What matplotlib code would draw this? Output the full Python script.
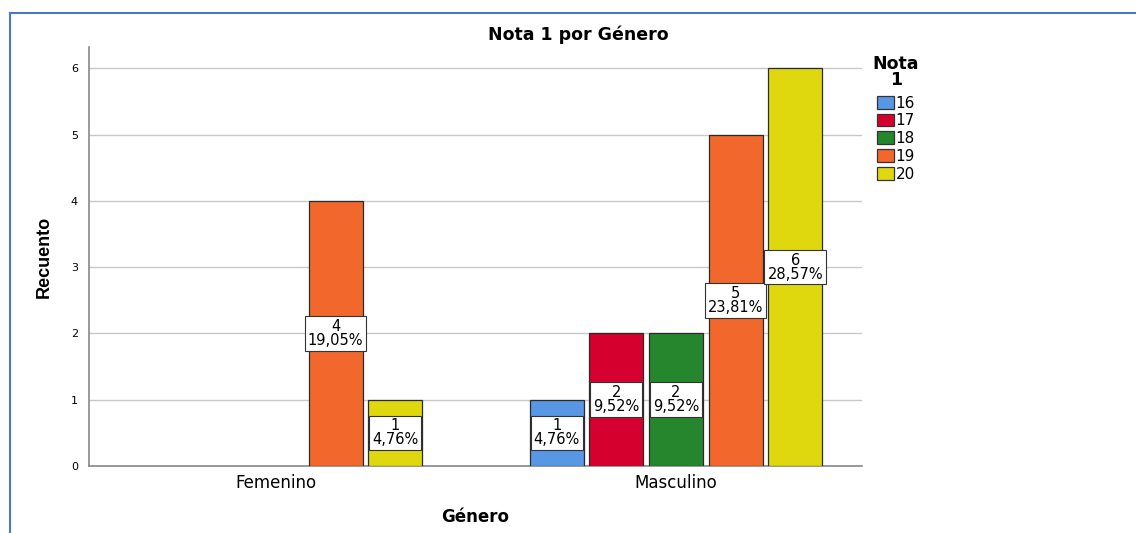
import matplotlib
matplotlib.use("Agg")
import matplotlib.pyplot as plt
from matplotlib.lines import Line2D
from matplotlib.patches import Patch
import numpy as np

plt.rcParams['font.family'] = ['Liberation Sans', 'DejaVu Sans']

generos = ["Femenino", "Masculino"]
notas = ["16", "17", "18", "19", "20"]
counts = {
    "16": [0, 1],
    "17": [0, 2],
    "18": [0, 2],
    "19": [4, 5],
    "20": [1, 6],
}
colors = ["#5797E3", "#D6002E", "#25862E", "#F2682C", "#E0D80F"]
total = 21

fig = plt.figure(figsize=(11.36, 5.33), dpi=100)
W, H = 1136, 533
ax = fig.add_axes([89 / W, 1 - 466 / H, (862 - 89) / W, (466 - 47) / H])

step = 0.149
width = 0.135
x = np.arange(len(generos))
for i, n in enumerate(notas):
    vals = counts[n]
    for j, v in enumerate(vals):
        if v <= 0:
            continue
        xp = x[j] + (i - 2) * step
        ax.bar(xp, v, width=width, color=colors[i], edgecolor="#2a2a2a", linewidth=0.9, zorder=3)
        pct = v / total * 100
        lbl = f"{v}\n{pct:.2f}%".replace(".", ",")
        ax.text(xp, v / 2, lbl, ha="center", va="center", fontsize=10.5, linespacing=0.9,
                family="DejaVu Sans", zorder=5,
                bbox=dict(boxstyle="square,pad=0.2", facecolor="white", edgecolor="#333333", linewidth=0.8))

ax.set_xlim(-0.4675, 1.465)
ax.set_ylim(0, 6.32)
ax.set_yticks(range(0, 7))
ax.set_yticklabels([str(v) for v in range(0, 7)], fontsize=8, family="DejaVu Sans")
ax.set_xticks(x)
ax.set_xticklabels(generos, fontsize=12, family="DejaVu Sans")
ax.tick_params(axis="y", length=0, pad=8)
ax.tick_params(axis="x", length=0, pad=6)
ax.grid(axis="y", color="#c8c8c8", linewidth=1, zorder=0)
for s in ["top", "right"]:
    ax.spines[s].set_visible(False)
for s in ["left", "bottom"]:
    ax.spines[s].set_color("#888888")
    ax.spines[s].set_linewidth(1.2)

ax.set_ylabel("Recuento", fontsize=13, fontweight="bold")
ax.yaxis.set_label_coords((53 - 89) / (862 - 89), 0.5)
ax.set_xlabel("Género", fontsize=12, fontweight="bold", family="DejaVu Sans", labelpad=11)
fig.text(578 / W, 1 - 35 / H, "Nota 1 por Género", ha="center", va="center", fontsize=12.5,
         fontweight="bold", family="DejaVu Sans")

handles = [Patch(facecolor=c, edgecolor="#333333", linewidth=0.9) for c in colors]
leg = fig.legend(handles, notas, title="Nota\n1", loc="upper left",
                 bbox_to_anchor=(862 / W, 1 - 44 / H), frameon=False,
                 prop={"family": "DejaVu Sans", "size": 11},
                 title_fontproperties={"weight": "bold", "size": 12.5, "family": "DejaVu Sans"},
                 handlelength=1.1, handleheight=0.9, handletextpad=0.15, labelspacing=0.18,
                 borderpad=0.2)
leg._legend_box.align = "center"
leg._legend_box.sep = 5
leg.get_title().set_multialignment("center")
leg.get_title().set_linespacing(0.85)

# blue border frame
fig.add_artist(Line2D([10 / W, 10 / W], [0, 1 - 13 / H], color="#4a78c8", linewidth=1.5, transform=fig.transFigure))
fig.add_artist(Line2D([10 / W, 1], [1 - 13 / H, 1 - 13 / H], color="#4a78c8", linewidth=1.5, transform=fig.transFigure))

fig.savefig("out.png", dpi=100)
